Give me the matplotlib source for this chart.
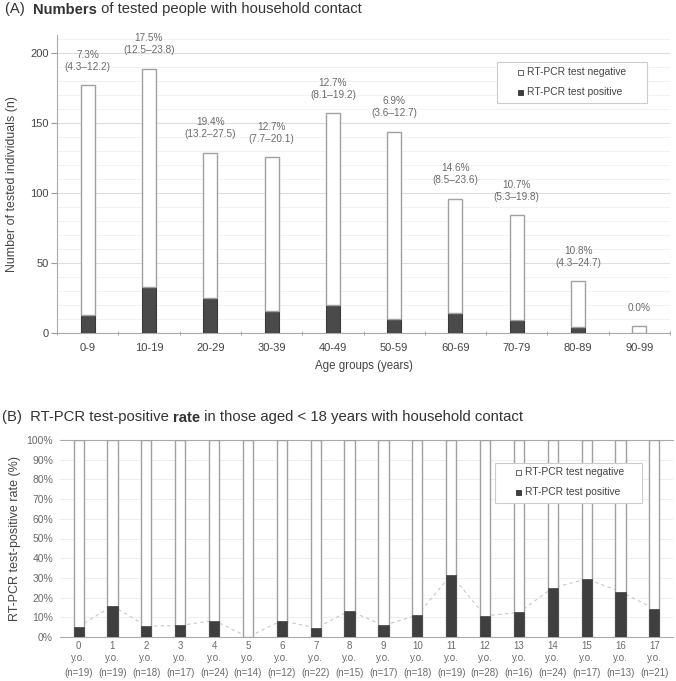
import matplotlib
matplotlib.use("Agg")
import matplotlib.pyplot as plt
import numpy as np
from matplotlib.lines import Line2D
from matplotlib.patches import Rectangle
import matplotlib.transforms as mtransforms

plt.rcParams['font.family'] = ['Liberation Sans', 'DejaVu Sans']

# ---- Panel A data ----
age_groups = ["0-9", "10-19", "20-29", "30-39", "40-49", "50-59", "60-69", "70-79", "80-89", "90-99"]
total_tested = [177, 189, 129, 126, 157, 144, 96, 84, 37, 5]
positive_a = [13, 33, 25, 16, 20, 10, 14, 9, 4, 0]
rate_labels = ["7.3%\n(4.3–12.2)", "17.5%\n(12.5–23.8)", "19.4%\n(13.2–27.5)", "12.7%\n(7.7–20.1)",
               "12.7%\n(8.1–19.2)", "6.9%\n(3.6–12.7)", "14.6%\n(8.5–23.6)", "10.7%\n(5.3–19.8)",
               "10.8%\n(4.3–24.7)", "0.0%"]

# ---- Panel B data ----
ages_b = list(range(18))
n_b = [19, 19, 18, 17, 24, 14, 12, 22, 15, 17, 18, 19, 28, 16, 24, 17, 13, 21]
pos_b = [1, 3, 1, 1, 2, 0, 1, 1, 2, 1, 2, 6, 3, 2, 6, 5, 3, 3]
rate_b = [100.0 * p / n for p, n in zip(pos_b, n_b)]

legend_labels = ["RT-PCR test negative", "RT-PCR test positive"]

DARK = "#404040"
EDGE = "#a0a0a0"
TXT = "#444444"
LTXT = "#6a6a6a"

fig = plt.figure(figsize=(6.76, 6.81), dpi=100)
W, H = 676, 681
PX = mtransforms.Affine2D().scale(1 / W, -1 / H).translate(0, 1) + fig.transFigure

def ax_rect(x0, y0, x1, y1):
    return [x0 / W, 1 - y1 / H, (x1 - x0) / W, (y1 - y0) / H]

def draw_legend(box, mx, tx, rows):
    x0, y0, x1, y1 = box
    fig.add_artist(Rectangle((x0, y0), x1 - x0, y1 - y0, transform=PX, facecolor='white',
                             edgecolor="#cccccc", linewidth=0.8, zorder=5))
    styles = [dict(facecolor='white', edgecolor='#666666', linewidth=0.7),
              dict(facecolor=DARK, edgecolor=DARK, linewidth=0.7)]
    for ry, lab, st in zip(rows, legend_labels, styles):
        fig.add_artist(Rectangle((mx - 2.5, ry - 2.5), 5, 5, transform=PX, zorder=6, **st))
        fig.text(tx / W, 1 - ry / H, lab, fontsize=7.4, color=TXT, va='center', ha='left', zorder=6)

# ================= Panel A =================
axA = fig.add_axes(ax_rect(57, 35, 670, 333))
x = np.arange(len(age_groups))
neg_a = [t - p for t, p in zip(total_tested, positive_a)]
axA.bar(x, positive_a, width=0.23, color="#4a4a4a", edgecolor="#3a3a3a", linewidth=0.8, zorder=3)
axA.bar(x, neg_a, bottom=positive_a, width=0.23, color="white", edgecolor=EDGE, linewidth=1.0, zorder=3)
axA.set_xlim(-0.5, len(age_groups) - 0.5)
axA.set_ylim(0, 213)
axA.set_yticks([0, 50, 100, 150, 200])
axA.set_yticks(np.arange(0, 213, 10), minor=True)
axA.grid(axis='y', which='major', color="#dedede", linewidth=0.8, zorder=0)
axA.grid(axis='y', which='minor', color="#f0f0f0", linewidth=0.6, zorder=0)
axA.tick_params(axis='y', which='major', labelsize=8, colors=TXT, length=4, color="#999999", pad=2)
axA.tick_params(axis='y', which='minor', length=0)
axA.set_xticks(x)
axA.set_xticklabels(age_groups)
axA.set_xticks(np.arange(-0.5, len(age_groups), 1), minor=True)
axA.tick_params(axis='x', which='major', length=0, labelsize=8, colors=TXT, pad=7)
axA.tick_params(axis='x', which='minor', length=3, direction='inout', color="#999999")
for s in ['top', 'right']:
    axA.spines[s].set_visible(False)
for s in ['left', 'bottom']:
    axA.spines[s].set_color("#aaaaaa")
axA.set_ylabel("Number of tested individuals (n)", fontsize=8.9, color=TXT)
axA.yaxis.set_label_coords((18 - 57) / 613, 0.5)
axA.set_xlabel("Age groups (years)", fontsize=8.3, color=TXT, labelpad=5)
for xi, t, lab in zip(x, total_tested, rate_labels):
    axA.annotate(lab, xy=(xi, t), xytext=(0, 9.5), textcoords='offset points',
                 ha='center', va='bottom', fontsize=7.2, color=LTXT,
                 linespacing=1.25, zorder=4)
draw_legend((497, 62, 647, 103), 520, 527, [72, 92])

tA = fig.text(5 / W, 1 - 13.5 / H, "(A)  ", fontsize=10.6, color="#333333", va='baseline', ha='left')
tA2 = fig.text(0, 0, "Numbers", fontsize=10.6, color="#333333", fontweight='bold', va='baseline', ha='left')
tA3 = fig.text(0, 0, " of tested people with household contact", fontsize=10.6, color="#333333", va='baseline', ha='left')

# ================= Panel B =================
axB = fig.add_axes(ax_rect(60, 440, 673, 637))
xb = np.arange(len(ages_b))
axB.bar(xb, [100] * len(xb), width=0.3, color='white', edgecolor=EDGE, linewidth=1.0, zorder=3)
axB.bar(xb, rate_b, width=0.3, color="#3f3f3f", edgecolor="#3f3f3f", linewidth=0.5, zorder=4)
axB.plot(xb, rate_b, linestyle=(0, (3, 3)), color="#c8c8c8", linewidth=0.8, zorder=2)
axB.set_xlim(-0.55, len(ages_b) - 0.45)
axB.set_ylim(0, 100)
axB.set_yticks(np.arange(0, 101, 10))
axB.set_yticklabels([f"{v}%" for v in range(0, 101, 10)])
axB.grid(axis='y', color="#eeeeee", linewidth=0.7, zorder=0)
axB.tick_params(axis='y', labelsize=7.5, colors=LTXT, length=0, pad=5)
axB.set_xticks(xb)
axB.set_xticklabels([f"{a}\ny.o." for a in ages_b], linespacing=1.25)
axB.tick_params(axis='x', labelsize=7, colors=LTXT, length=0, pad=3)
trans = mtransforms.blended_transform_factory(axB.transData, fig.transFigure)
for a, n in zip(ages_b, n_b):
    axB.text(a, 1 - 673.5 / H, f"(n={n})", transform=trans, ha='center', va='center',
             fontsize=7, color=LTXT, clip_on=False)
for s in ['left', 'right']:
    axB.spines[s].set_visible(False)
axB.spines['top'].set_color("#aaaaaa")
axB.spines['bottom'].set_color("#aaaaaa")
axB.set_ylabel("RT-PCR test-positive rate (%)", fontsize=9, color=TXT)
axB.yaxis.set_label_coords((21 - 60) / 613, 0.5)
draw_legend((495, 463, 642, 503), 518, 525, [472, 492])

tB = fig.text(2 / W, 1 - 421.5 / H, "(B)  RT-PCR test-positive ", fontsize=10.7, color="#333333", va='baseline', ha='left')
tB2 = fig.text(0, 0, "rate", fontsize=10.7, color="#333333", fontweight='bold', va='baseline', ha='left')
tB3 = fig.text(0, 0, " in those aged < 18 years with household contact", fontsize=10.7, color="#333333", va='baseline', ha='left')

# chain title pieces horizontally
fig.canvas.draw()
r = fig.canvas.get_renderer()
for first, seq in [(tA, [tA2, tA3]), (tB, [tB2, tB3])]:
    prev = first
    by = first.get_position()[1]
    for t in seq:
        bb = prev.get_window_extent(r)
        t.set_position((bb.x1 / fig.bbox.width, by))
        fig.canvas.draw()
        prev = t

fig.savefig("out.png", dpi=100)
